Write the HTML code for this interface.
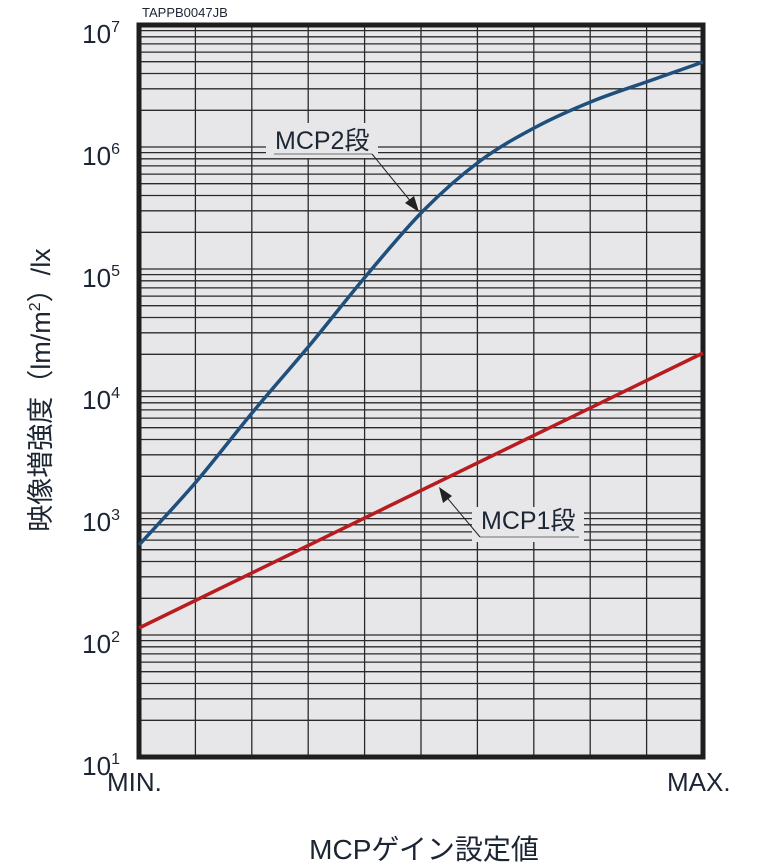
<!DOCTYPE html>
<html><head><meta charset="utf-8"><style>
body{margin:0;background:#fff;}
svg{display:block;}
text{font-family:"Liberation Sans","Noto Sans CJK JP",sans-serif;fill:#1c2533;}
</style></head><body>
<svg width="768" height="865" viewBox="0 0 768 865" xmlns="http://www.w3.org/2000/svg">
<rect x="139" y="25" width="564" height="732" fill="#e7e7e9"/>
<g stroke="#2a2a2a" stroke-width="1.3" fill="none">
<path d="
M195.4 25V757 M251.8 25V757 M308.2 25V757 M364.6 25V757 M421 25V757 M477.4 25V757 M533.8 25V757 M590.2 25V757 M646.6 25V757
"/>
</g>
<g id="hlines" stroke="#2a2a2a" stroke-width="1.3"></g>
<rect x="266" y="123" width="112" height="35" fill="#e7e7e9"/>
<rect x="472" y="507" width="112" height="35" fill="#e7e7e9"/>
<rect x="139" y="25" width="564" height="732" fill="none" stroke="#1e1e1e" stroke-width="5"/>
<path id="blue" d="" fill="none" stroke="#1f4f7c" stroke-width="3.5"/>
<line x1="139" y1="628" x2="703" y2="353" stroke="#b81c1f" stroke-width="3.5"/>
<line x1="274" y1="154" x2="372" y2="154" stroke="#999" stroke-width="1.5"/>
<line x1="372" y1="154" x2="412" y2="203" stroke="#222" stroke-width="1"/>
<polygon points="419,212 405,203 414,196" fill="#222"/>
<line x1="480" y1="537" x2="579" y2="537" stroke="#999" stroke-width="1.5"/>
<line x1="480" y1="537" x2="444" y2="494" stroke="#222" stroke-width="1"/>
<polygon points="439,487 452,496 443,503" fill="#222"/>
<text x="275" y="149" font-size="25">MCP2段</text>
<text x="481" y="529" font-size="25">MCP1段</text>
<text x="142" y="17" font-size="13">TAPPB0047JB</text>
<g font-size="26" text-anchor="end">
<text x="120" y="43">10<tspan font-size="16" dy="-11">7</tspan></text>
<text x="120" y="165">10<tspan font-size="16" dy="-11">6</tspan></text>
<text x="120" y="287">10<tspan font-size="16" dy="-11">5</tspan></text>
<text x="120" y="409">10<tspan font-size="16" dy="-11">4</tspan></text>
<text x="120" y="531">10<tspan font-size="16" dy="-11">3</tspan></text>
<text x="120" y="653">10<tspan font-size="16" dy="-11">2</tspan></text>
<text x="120" y="775">10<tspan font-size="16" dy="-11">1</tspan></text>
</g>
<text x="107" y="791" font-size="26">MIN.</text>
<text x="667" y="791" font-size="26">MAX.</text>
<text x="424" y="859" font-size="28" text-anchor="middle">MCPゲイン設定値</text>
<text transform="translate(50,390) rotate(-90)" font-size="27" text-anchor="middle">映像増強度（lm/m<tspan font-size="16" dy="-10">2</tspan><tspan dy="10">）/lx</tspan></text>
</svg>
<script>
var g=document.getElementById('hlines');var s='';
for(var d=0;d<6;d++){var base=757-d*122;for(var k=2;k<=10;k++){var y=base-Math.log10(k)*122;s+='<line x1="139" x2="703" y1="'+y.toFixed(1)+'" y2="'+y.toFixed(1)+'"/>';}}
g.innerHTML=s;
var p=[[139,545],[196,482],[252,413],[309,346],[366,276],[423,211],[480,161],[536,127],[593,101],[652,80],[703,62]];
var d='M'+p[0][0]+' '+p[0][1];
for(var i=0;i<p.length-1;i++){var p0=p[Math.max(i-1,0)],p1=p[i],p2=p[i+1],p3=p[Math.min(i+2,p.length-1)];
d+=' C'+(p1[0]+(p2[0]-p0[0])/6).toFixed(1)+' '+(p1[1]+(p2[1]-p0[1])/6).toFixed(1)+','+(p2[0]-(p3[0]-p1[0])/6).toFixed(1)+' '+(p2[1]-(p3[1]-p1[1])/6).toFixed(1)+','+p2[0]+' '+p2[1];}
document.getElementById('blue').setAttribute('d',d);
</script>
</body></html>
